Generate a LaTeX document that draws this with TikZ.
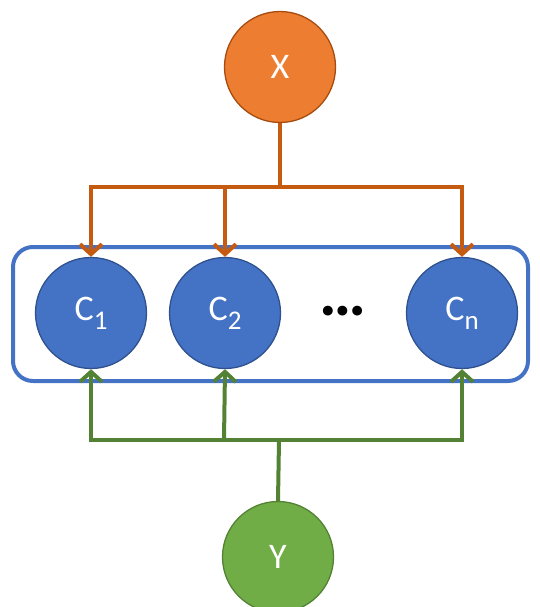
\documentclass[tikz,border=0pt]{standalone}
\usepackage{fontspec}
\setmainfont{Carlito}
\usetikzlibrary{arrows.meta}
\definecolor{xorange}{HTML}{ED7D31}
\definecolor{xorangeline}{HTML}{C55A11}
\definecolor{cblue}{HTML}{4472C4}
\definecolor{cblueline}{HTML}{2F528F}
\definecolor{ygreen}{HTML}{70AD47}
\definecolor{ygreenline}{HTML}{548235}
% subscript in the text font, lowered like an office-style subscript
\newcommand{\lowsub}[1]{\raisebox{-9pt}{\fontsize{27}{30}\selectfont #1}}
\begin{document}
\begin{tikzpicture}[x=1pt,y=-1pt,
  var/.style={circle, minimum size=111pt, inner sep=0pt, line width=1.3pt,
    text=white, font=\fontsize{36}{40}\selectfont},
  xvar/.style={var, fill=xorange, draw=xorangeline!85!black},
  cvar/.style={var, fill=cblue, draw=cblueline},
  yvar/.style={var, fill=ygreen, draw=ygreenline},
  xedge/.style={draw=xorangeline, line width=4pt},
  yedge/.style={draw=ygreenline, line width=4pt},
  tip/.style={-{Straight Barb[length=10pt,width=22pt,line width=4pt]}},
]
\useasboundingbox (0,0) rectangle (539,607);

% group frame around the C nodes
\draw[cblue, line width=4pt, rounded corners=20pt] (13,247) rectangle (528,381);

\node[xvar] (X) at (280,67) {X};
\node[cvar] (C1) at (91,313) {C\lowsub{1}};
\node[cvar] (C2) at (225,313) {C\lowsub{2}};
\node[cvar] (Cn) at (462,313) {C\lowsub{n}};
\node[font=\fontsize{66}{66}\selectfont\bfseries, inner sep=0pt] (dots) at (343,311) {…};
\node[yvar] (Y) at (278,557) {Y};

% fan-out from X
\coordinate (xb) at (280,187);
\coordinate (x1) at (91,187);
\coordinate (x2) at (225,187);
\coordinate (xn) at (462,187);
\draw[xedge] (X.south) -- (xb);
\draw[xedge] ([xshift=-2pt]x1) -- ([xshift=2pt]xn);
\draw[xedge, tip] (x1) -- (C1.north);
\draw[xedge, tip] (x2) -- (C2.north);
\draw[xedge, tip] (xn) -- (Cn.north);

% fan-in from Y
\coordinate (yb) at (279,440);
\coordinate (y1) at (91,440);
\coordinate (y2) at (224,440);
\coordinate (yn) at (462,440);
\draw[yedge] (Y.north) -- (yb);
\draw[yedge] ([xshift=-2pt]y1) -- ([xshift=2pt]yn);
\draw[yedge, tip] (y1) -- (C1.south);
\draw[yedge, tip] (y2) -- (C2.south);
\draw[yedge, tip] (yn) -- (Cn.south);
\end{tikzpicture}
\end{document}
